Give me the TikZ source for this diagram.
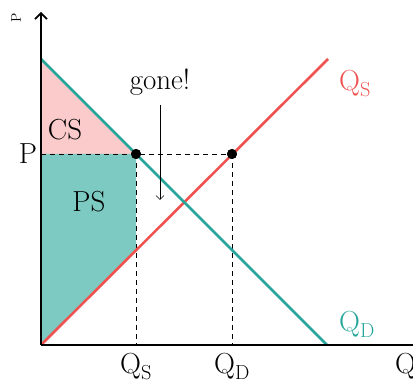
\documentclass[tikz,border=0pt]{standalone}
\usetikzlibrary{arrows.meta}
\definecolor{tealc}{RGB}{38,166,154}
\definecolor{redc}{RGB}{239,83,80}
\begin{document}
\begin{tikzpicture}[x=1pt,y=1pt,
  big/.style={font=\fontsize{29}{32}\selectfont, inner sep=0pt},
  curve/.style={line width=2.6pt},
  guide/.style={dashed, dash pattern=on 5pt off 4pt, line width=0.6pt},
  dot/.style={circle, fill=black, inner sep=0pt, minimum size=10pt}]
\useasboundingbox (0,0) rectangle (413,380);
\clip (0,0) rectangle (413,380);
\coordinate (O) at (41,35);
\coordinate (Ytop) at (41,368);
\coordinate (Xend) at (430,35);
\coordinate (Dtop) at (41,321);
\coordinate (Dbot) at (327,35);
\coordinate (Stop) at (328,321);
\coordinate (Pl) at (41,226);
\coordinate (Sq) at (136,130);
\coordinate (Qs) at (136,35);
\coordinate (Qd) at (232,35);
% fills
\fill[redc!30] (Dtop) -- (136,226) -- (Pl) -- cycle;
\fill[tealc!60] (Pl) -- (136,226) -- (Sq) -- (O) -- cycle;
% dashed guides
\node[dot] (A) at (136,226) {};
\node[dot] (B) at (232,226) {};
\draw[guide] (Pl) -- (B.center);
\draw[guide] (A.center) -- (Qs);
\draw[guide] (B.center) -- (Qd);
% curves
\draw[curve, redc] (O) -- (Stop);
\draw[curve, tealc] (Dtop) -- (Dbot);
\node[dot] at (136,226) {};
\node[dot] at (232,226) {};
% axes
\draw[line width=1.6pt, -{Straight Barb[length=6pt,width=12pt]}] (O) -- (Ytop);
\draw[line width=1.6pt] (O) -- (Xend);
% labels
\node[big, anchor=base] (cs) at (65,240) {CS};
\node[big, anchor=base] (ps) at (89,168) {PS};
\node[big, anchor=base] (pl) at (28,216) {P};
\node[big, anchor=base] (gone) at (160,290) {gone!};
\coordinate (g1) at (160,275);
\coordinate (g2) at (160,180);
\draw[line width=0.6pt, -{Straight Barb[length=4pt,width=8pt]}] (g1) -- (g2);
\node[big, anchor=base west, redc] (qsl) at (339,289) {Q\textsubscript{S}};
\node[big, anchor=base west, tealc] (qdl) at (339,48) {Q\textsubscript{D}};
\node[big, anchor=base] (qsa) at (136,6) {Q\textsubscript{S}};
\node[big, anchor=base] (qda) at (232,6) {Q\textsubscript{D}};
\node[big, anchor=base west] (qa) at (395,6) {Q};
\node[font=\fontsize{14}{16}\selectfont, rotate=90, inner sep=0pt] (py) at (16,362) {P};
\end{tikzpicture}
\end{document}
